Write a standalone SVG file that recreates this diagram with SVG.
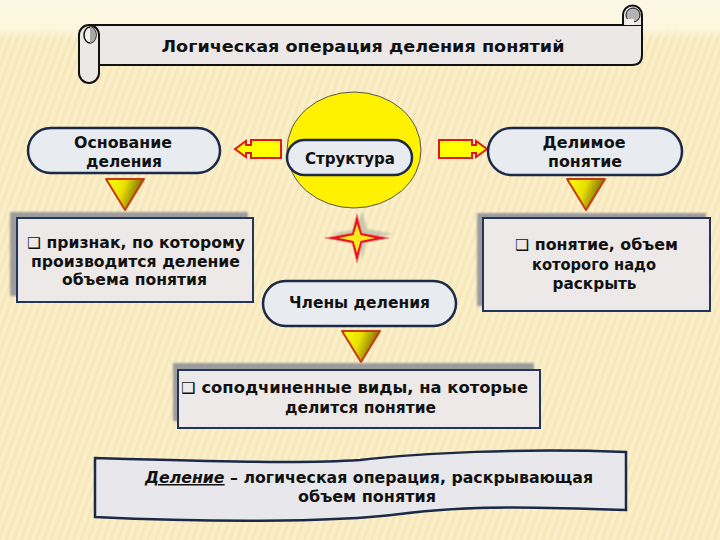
<svg xmlns="http://www.w3.org/2000/svg" width="720" height="540" viewBox="0 0 720 540">
<defs>
<pattern id="stripes" width="7" height="7" patternUnits="userSpaceOnUse" patternTransform="rotate(20)">
<rect width="7" height="7" fill="#FBEFCA"/>
<rect width="3" height="7" fill="#F4E0AC" opacity="0.55"/>
</pattern>
<linearGradient id="topfade" x1="0" y1="0" x2="0" y2="1">
<stop offset="0" stop-color="#FDF8E6"/>
<stop offset="0.7" stop-color="#FDF6DE"/>
<stop offset="1" stop-color="#FDF6DE" stop-opacity="0"/>
</linearGradient>
<linearGradient id="tri" x1="0" y1="0" x2="1" y2="0.3">
<stop offset="0" stop-color="#FFFF10"/>
<stop offset="0.5" stop-color="#E8E000"/>
<stop offset="1" stop-color="#6E5A10"/>
</linearGradient>
<filter id="blur" x="-10%" y="-10%" width="120%" height="120%"><feGaussianBlur stdDeviation="1.2"/></filter>
<style>
.t{font-family:"DejaVu Sans","Liberation Sans",Arial,sans-serif;font-weight:bold;font-size:15px;fill:#111;text-anchor:middle}
.oval{fill:#E8EBF0;stroke:#1B2A48;stroke-width:2.5}
.box{fill:#EDE9E9;stroke:#22355A;stroke-width:2}
.shadow{fill:#9C9C9C;filter:url(#blur)}
.roll{fill:#ECE8E8;stroke:#111;stroke-width:2}
.arrow{fill:#FFFF00;stroke:#E01818;stroke-width:2;stroke-linejoin:miter}
.tri{fill:url(#tri);stroke:#C83A10;stroke-width:2;stroke-linejoin:round}
</style>
</defs>

<!-- background -->
<rect width="720" height="540" fill="url(#stripes)"/>
<rect width="720" height="40" fill="url(#topfade)"/>

<!-- title scroll -->
<g id="title">
<path class="roll" d="M89 25 H642 V55 Q642 65 632 65 H99"/>
<path class="roll" d="M623 25 V15 A9.5 9.5 0 0 1 642 15 V25"/>
<circle cx="633" cy="15" r="7" fill="#B4B4B4" stroke="#111" stroke-width="1"/>
<rect x="626" y="19" width="8" height="6" fill="#F4F2F2"/>
<rect class="roll" x="79" y="25" width="20" height="58" rx="10"/>
<ellipse cx="90" cy="35" rx="6" ry="8" fill="#F2F0F0" stroke="#111" stroke-width="1.5"/>
<path d="M90 27 A6 8 0 0 1 90 43 Z" fill="#A8A8A8"/>
<text class="t" x="363" y="52" font-size="17" textLength="403" lengthAdjust="spacingAndGlyphs">Логическая операция деления понятий</text>
</g>

<!-- connectors / decorations -->
<g id="connectors">
<path class="arrow" d="M235 149 L246 141 V145 H251 V140 H281 V158 H251 V153 H246 V157 Z"/>
<path class="arrow" d="M487 149 L476 141 V145 H472 V140 H439 V158 H472 V153 H476 V157 Z"/>
<path class="tri" d="M106 179 L144 179 L125 210 Z"/>
<path class="tri" d="M567 179 L605 179 L586 210 Z"/>
<path class="tri" d="M342 331 L380 331 L361 362 Z"/>
<g id="star">
<path d="M362 210 L367 229 L394 234 L367 239 L362 259 L357 239 L330 234 L357 229 Z" fill="#A9B0A0" opacity="0.6" filter="url(#blur)"/>
<path d="M357 214 L362 233 L389 238 L362 243 L357 263 L352 243 L325 238 L352 233 Z" fill="#E3151B" stroke="#F08080" stroke-width="0.8"/>
<path d="M357 224 L360.5 235 L375 238 L360.5 241 L357 253 L353.5 241 L339 238 L353.5 235 Z" fill="#FFE81A"/>
</g>
</g>

<!-- center circle + Структура -->
<g id="structure">
<ellipse cx="354" cy="150" rx="67" ry="58" fill="#FFF200" stroke="#555" stroke-width="1"/>
<rect class="oval" x="287" y="140" width="125" height="35" rx="17.5"/>
<text class="t" x="350" y="164" textLength="90" lengthAdjust="spacingAndGlyphs">Структура</text>
</g>

<g id="osnovanie">
<rect class="oval" x="28" y="128" width="192" height="45" rx="22.5"/>
<text class="t" x="123" y="148" textLength="98" lengthAdjust="spacingAndGlyphs">Основание</text>
<text class="t" x="124" y="167" textLength="76" lengthAdjust="spacingAndGlyphs">деления</text>
</g>

<g id="delimoe">
<rect class="oval" x="488" y="128" width="194" height="47" rx="23.5"/>
<text class="t" x="584" y="148" textLength="83" lengthAdjust="spacingAndGlyphs">Делимое</text>
<text class="t" x="585" y="167" textLength="74" lengthAdjust="spacingAndGlyphs">понятие</text>
</g>

<g id="chleny">
<rect class="oval" x="263" y="281" width="193" height="45" rx="22.5"/>
<text class="t" x="359.5" y="308" textLength="141" lengthAdjust="spacingAndGlyphs">Члены деления</text>
</g>

<g id="box-left">
<rect class="shadow" x="10" y="212" width="238" height="84"/>
<rect class="box" x="17" y="218" width="236" height="84"/>
<text class="t" x="136" y="248" textLength="218" lengthAdjust="spacingAndGlyphs">❑ признак, по которому</text>
<text class="t" x="135.5" y="267" textLength="209" lengthAdjust="spacingAndGlyphs">производится деление</text>
<text class="t" x="134.5" y="285" textLength="145" lengthAdjust="spacingAndGlyphs">объема понятия</text>
</g>

<g id="box-right">
<rect class="shadow" x="477" y="213" width="229" height="93"/>
<rect class="box" x="483" y="218" width="227" height="93"/>
<text class="t" x="596.5" y="250" textLength="163" lengthAdjust="spacingAndGlyphs">❑ понятие, объем</text>
<text class="t" x="594" y="270" textLength="124" lengthAdjust="spacingAndGlyphs">которого надо</text>
<text class="t" x="594.5" y="289" textLength="84" lengthAdjust="spacingAndGlyphs">раскрыть</text>
</g>

<g id="box-bottom">
<rect class="shadow" x="173" y="363" width="361" height="58"/>
<rect class="box" x="178" y="370" width="362" height="58"/>
<text class="t" x="354.5" y="393" textLength="347" lengthAdjust="spacingAndGlyphs">❑ соподчиненные виды,  на которые</text>
<text class="t" x="360.5" y="413" textLength="151" lengthAdjust="spacingAndGlyphs">делится понятие</text>
</g>

<g id="definition">
<path d="M95 458 C200 461 300 464 360 460 C420 453 520 448 626 452 L626 510 C540 507 470 505 400 514 C330 523 200 522 95 517 Z" fill="#E8E8EC" stroke="#1B2A48" stroke-width="2.5"/>
<text class="t" x="369" y="483" textLength="448" lengthAdjust="spacingAndGlyphs"><tspan font-style="italic" text-decoration="underline">Деление</tspan> – логическая операция,  раскрывающая</text>
<text class="t" x="367" y="502" textLength="138" lengthAdjust="spacingAndGlyphs">объем понятия</text>
</g>
</svg>
